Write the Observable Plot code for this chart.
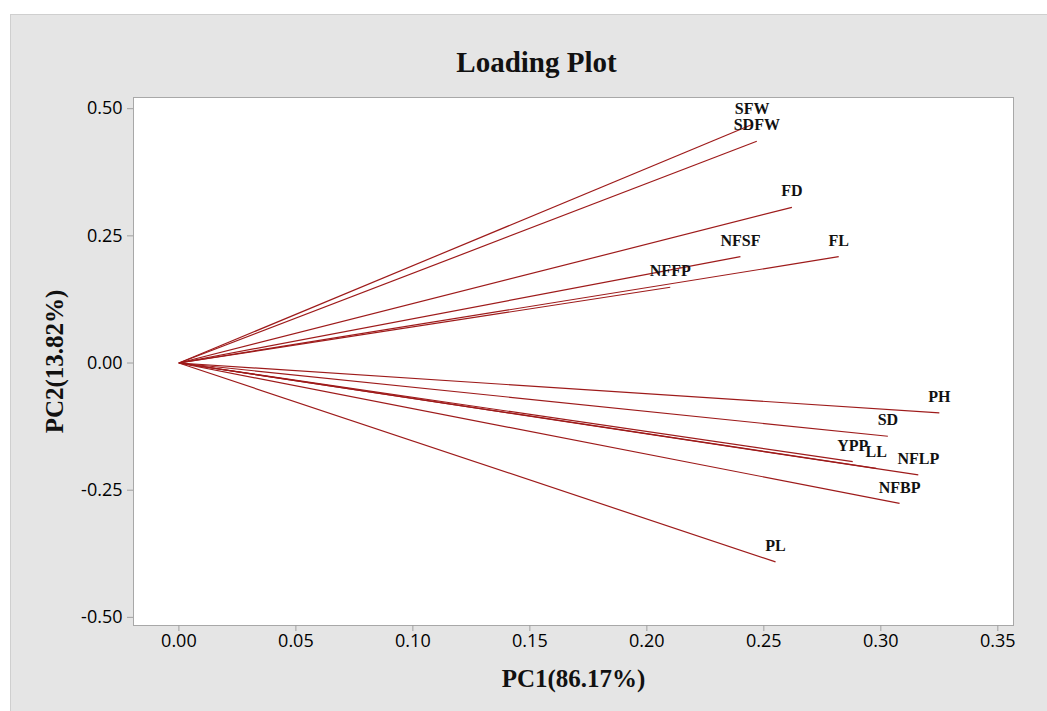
<!DOCTYPE html>
<html>
<head>
<meta charset="utf-8">
<script src="https://cdn.jsdelivr.net/npm/d3@7"></script>
<script src="https://cdn.jsdelivr.net/npm/@observablehq/plot@0.6"></script>
<style>
  html, body { margin: 0; padding: 0; background: #ffffff; width: 1047px; height: 711px; overflow: hidden; }
  #panel { position: absolute; left: 10px; top: 14px; width: 1100px; height: 800px; background: #e5e5e5; border: 1px solid #cfcfcf; box-sizing: border-box; }
  #chart { position: absolute; left: 0; top: 0; }
</style>
</head>
<body>
<div id="panel"></div>
<div id="chart"></div>
<script>
// Variables (loadings on PC1 and PC2)
const variables = ["SFW", "SDFW", "FD", "NFSF", "FL", "NFFP", "PH", "SD", "YPP", "LL", "NFLP", "NFBP", "PL"];
const pc1 = [0.245, 0.247, 0.262, 0.240, 0.282, 0.210, 0.325, 0.303, 0.288, 0.298, 0.316, 0.308, 0.255];
const pc2 = [0.469, 0.436, 0.306, 0.209, 0.209, 0.149, -0.098, -0.144, -0.194, -0.207, -0.220, -0.276, -0.391];

// Tick labels
const xTicks = [0.00, 0.05, 0.10, 0.15, 0.20, 0.25, 0.30, 0.35];
const yTicks = [-0.50, -0.25, 0.00, 0.25, 0.50];

// Texts
const titleText = ["Loading Plot"];
const xLabel = ["PC1(86.17%)"];
const yLabel = ["PC2(13.82%)"];

const data = variables.map((v, i) => ({name: v, x: pc1[i], y: pc2[i]}));

const serif = "'Liberation Serif', 'Times New Roman', serif";
const sans = "'Open Sans', 'Noto Sans', sans-serif";
const lineColor = "#9e1b1b";
const fmt = d => d.toFixed(2);

const chart = Plot.plot({
  width: 1047,
  height: 711,
  marginLeft: 133,
  marginTop: 97,
  marginRight: 34,
  marginBottom: 86,
  style: {background: "transparent", overflow: "visible"},
  x: {domain: [-0.0194, 0.3567]},
  y: {domain: [-0.516, 0.522]},
  marks: [
    Plot.frame({fill: "white", stroke: "#a8a8a8"}),
    Plot.axisX({ticks: xTicks, tickFormat: fmt, tickSize: 6, tickPadding: 3, stroke: "#a0a0a0", fill: "#000", fontSize: 18, fontFamily: sans, label: null}),
    Plot.axisY({ticks: yTicks, tickFormat: fmt, tickSize: 6, tickPadding: 5, stroke: "#a0a0a0", fill: "#000", fontSize: 18, fontFamily: sans, label: null}),
    Plot.link(data, {x1: () => 0, y1: () => 0, x2: "x", y2: "y", stroke: lineColor, strokeWidth: 1.2}),
    Plot.text(data, {x: "x", y: "y", text: "name", dy: -16, lineAnchor: "middle", textAnchor: "middle", fontFamily: serif, fontWeight: "bold", fontSize: 16, fill: "#111"}),
    Plot.text(titleText, {frameAnchor: "top", dx: -37, dy: -35, lineAnchor: "middle", fontFamily: serif, fontWeight: "bold", fontSize: 29, fill: "#111"}),
    Plot.text(xLabel, {frameAnchor: "bottom", dy: 53, lineAnchor: "middle", fontFamily: serif, fontWeight: "bold", fontSize: 25, fill: "#111"}),
    Plot.text(yLabel, {frameAnchor: "left", dx: -79, rotate: -90, lineAnchor: "middle", textAnchor: "middle", fontFamily: serif, fontWeight: "bold", fontSize: 25, fill: "#111"})
  ]
});
document.getElementById("chart").appendChild(chart);
</script>
</body>
</html>
